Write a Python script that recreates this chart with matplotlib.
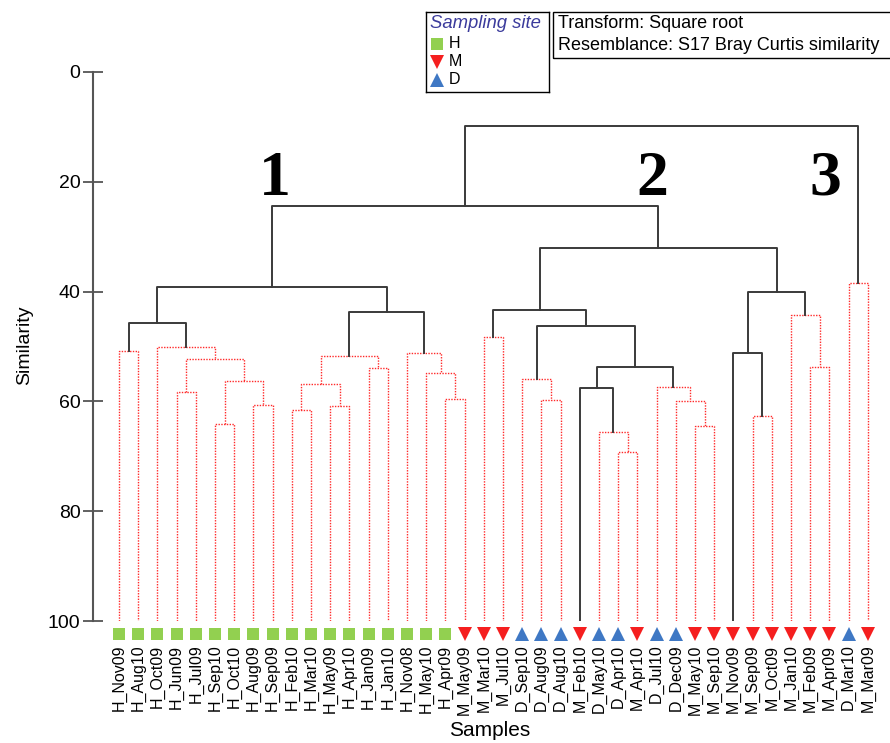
import numpy as np
import matplotlib.pyplot as plt
from matplotlib.patches import Rectangle
from matplotlib.lines import Line2D

# leaf order as shown along the bottom
leaf_names = ['H_Nov09', 'H_Aug10', 'H_Oct09', 'H_Jun09', 'H_Jul09', 'H_Sep10', 'H_Oct10',
              'H_Aug09', 'H_Sep09', 'H_Feb10', 'H_Mar10', 'H_May09', 'H_Apr10', 'H_Jan09',
              'H_Jan10', 'H_Nov08', 'H_May10', 'H_Apr09', 'M_May09', 'M_Mar10', 'M_Jul10',
              'D_Sep10', 'D_Aug09', 'D_Aug10', 'M_Feb10', 'D_May10', 'D_Apr10', 'M_Apr10',
              'D_Jul10', 'D_Dec09', 'M_May10', 'M_Sep10', 'M_Nov09', 'M_Sep09', 'M_Oct09',
              'M_Jan10', 'M_Feb09', 'M_Apr09', 'D_Mar10', 'M_Mar09']
leaf_sites = [n[0] for n in leaf_names]

# merges: node id = 40 + row index; children refer to leaves (<40) or earlier nodes
merge_left = [0, 3, 5, 7, 42, 41, 2, 40, 9, 11, 48, 13, 50, 17, 16, 15, 52, 47,
              19, 22, 21, 26, 25, 24, 30, 29, 28, 63, 60, 58, 33, 32, 36, 35, 71, 69, 57,
              38, 76]
merge_right = [1, 4, 6, 8, 43, 44, 45, 46, 10, 12, 49, 14, 51, 18, 53, 54, 55, 56,
               20, 23, 59, 27, 61, 62, 31, 64, 65, 66, 67, 68, 34, 70, 37, 72, 73, 74, 75,
               39, 77]
merge_sim = [50.8, 58.2, 64.2, 60.6, 56.2, 52.2, 50.0, 45.8, 61.6, 60.8, 56.8, 54.0, 51.8,
             59.6, 54.9, 51.1, 43.7, 39.2,
             48.2, 59.7, 56.0, 69.2, 65.6, 57.5, 64.4, 60.0, 57.3, 53.8, 46.2, 43.4,
             62.7, 51.1, 53.8, 44.3, 40.1, 32.1, 24.4,
             38.5, 9.8]
# 1 = significant split (solid black), 0 = no structure (red dotted)
merge_sig = [0, 0, 0, 0, 0, 0, 0, 1, 0, 0, 0, 0, 0, 0, 0, 0, 1, 1,
             0, 0, 0, 0, 0, 1, 0, 0, 0, 1, 1, 1, 0, 1, 0, 0, 1, 1, 1,
             0, 1]

group_labels = ['1', '2', '3']
group_x = [8.1, 27.8, 36.8]
group_y = [22.4, 22.4, 22.4]

site_style = {'H': ('s', '#92d050', 9), 'M': ('v', '#f51f1f', 10.5), 'D': ('^', '#3f78c4', 10.5)}

plt.rcParams['font.family'] = ['Liberation Sans', 'DejaVu Sans']

fig = plt.figure(figsize=(8.9, 7.43), dpi=100)
ax = fig.add_axes([93 / 890, 122 / 743, 797 / 890, 549 / 743])

n = len(leaf_names)
xpos = {i: float(i) for i in range(n)}
ypos = {i: 100.0 for i in range(n)}

for k in range(len(merge_sim)):
    a, b, s = merge_left[k], merge_right[k], merge_sim[k]
    if merge_sig[k]:
        kw = dict(color='#3a3a3a', lw=1.4, ls='-')
    else:
        kw = dict(color='#ff2a2a', lw=1.0, ls=(0, (1, 1)))
    xa, xb = xpos[a], xpos[b]
    ax.plot([xa, xa, xb, xb], [ypos[a], s, s, ypos[b]], **kw)
    node = n + k
    xpos[node] = (xa + xb) / 2
    ypos[node] = s

# site markers under each leaf
for i, site in enumerate(leaf_sites):
    m, c, ms = site_style[site]
    ax.plot(i, 102.4, marker=m, color=c, markersize=ms, markeredgewidth=0, clip_on=False)

for t, gx, gy in zip(group_labels, group_x, group_y):
    ax.text(gx, gy, t, fontsize=46, fontweight='bold', family='Liberation Serif',
            ha='center', va='baseline')

ax.set_xlim((93 - 119) / 19.2, (890 - 119) / 19.2)
ax.set_ylim(100, 0)
ax.set_yticks([0, 20, 40, 60, 80, 100])
ax.tick_params(axis='y', direction='inout', length=14, width=1.3, color='#555555',
               labelsize=14, pad=2)
ax.set_xticks(range(n))
ax.set_xticklabels(leaf_names, rotation=90, fontsize=11.5)
ax.tick_params(axis='x', length=0, pad=17)
for side in ['top', 'right', 'bottom']:
    ax.spines[side].set_visible(False)
ax.spines['left'].set_color('#555555')
ax.spines['left'].set_linewidth(1.5)

fig.text(25 / 890, 1 - 345 / 743, 'Similarity', rotation=90, fontsize=14,
         ha='center', va='center')
fig.text(490 / 890, 1 - 731 / 743, 'Samples', fontsize=15, ha='center', va='center')

# legend box
lax = fig.add_axes([426 / 890, 1 - 92 / 743, 123 / 890, 80 / 743])
lax.set_xlim(426, 549)
lax.set_ylim(92, 12)
lax.set_xticks([])
lax.set_yticks([])
for sp in lax.spines.values():
    sp.set_linewidth(1.0)
lax.text(430, 24, 'Sampling site', fontsize=13.3, style='italic', color='#3b3b9c',
         ha='left', va='center')
for site, yy in zip(['H', 'M', 'D'], [44, 62, 80]):
    m, c, ms = site_style[site]
    lax.plot(437, yy, marker=m, color=c, markersize=ms, markeredgewidth=0)
    lax.text(449, yy, site, fontsize=11.5, ha='left', va='center')

# transform / resemblance box
fig.patches.append(Rectangle((553 / 890, 1 - 58 / 743), 340 / 890, 46 / 743,
                             transform=fig.transFigure, fill=False, edgecolor='black', lw=1.0))
fig.text(558 / 890, 1 - 24 / 743, 'Transform: Square root', fontsize=13, va='center')
fig.text(558 / 890, 1 - 46 / 743, 'Resemblance: S17 Bray Curtis similarity', fontsize=13,
         va='center')

fig.savefig('out.png', dpi=100)
